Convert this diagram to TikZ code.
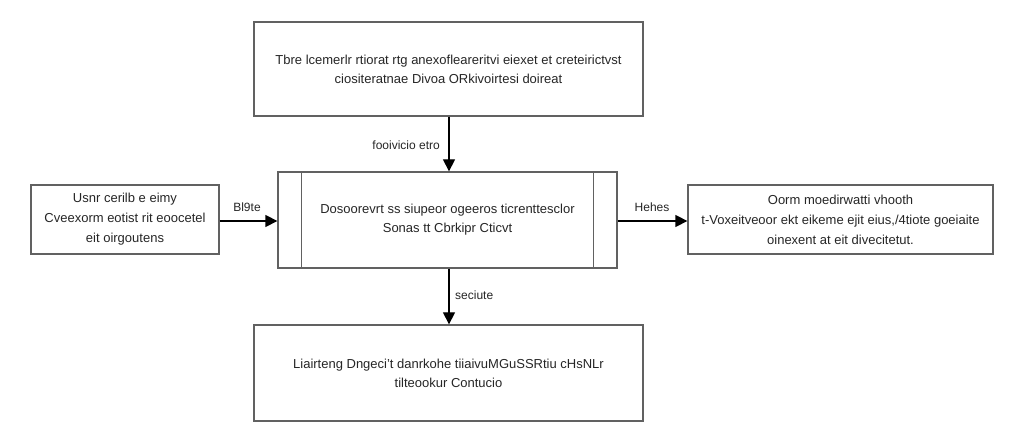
\documentclass[tikz,border=0pt]{standalone}
\usepackage{fontspec}
\setmainfont{Liberation Sans}
\usetikzlibrary{arrows.meta}
\begin{document}
\begin{tikzpicture}[x=1pt,y=1pt,
  box/.style={draw=black!62, line width=1.3pt, fill=white, align=center, inner sep=0pt,
    font=\fontsize{13}{19}\selectfont, text=black!85},
  conn/.style={line width=1.3pt, draw=black, -{Triangle[length=12pt,width=12pt]}},
  lbl/.style={font=\fontsize{12}{14}\selectfont, text=black!85, inner sep=0pt}]
\useasboundingbox[fill=white] (0,0) rectangle (1024,444);
\node[box, minimum width=389pt, minimum height=94pt] (top) at (448.5,375)
  {Tbre lcemerlr rtiorat rtg anexofleareritvi eiexet et creteirictvst\\
   ciositeratnae Divoa ORkivoirtesi doireat};
\node[box, minimum width=339pt, minimum height=96pt] (mid) at (447.5,224)
  {Dosoorevrt ss siupeor ogeeros ticrenttesclor\\ Sonas tt Cbrkipr Cticvt};
\draw[draw=black!62, line width=1.3pt] ([xshift=24pt]mid.north west) -- ([xshift=24pt]mid.south west);
\draw[draw=black!62, line width=1.3pt] ([xshift=-24pt]mid.north east) -- ([xshift=-24pt]mid.south east);
\node[box, minimum width=188pt, minimum height=69pt, font=\fontsize{13}{20}\selectfont] (left) at (125,224.5)
  {Usnr cerilb e eimy\\ Cveexorm eotist rit eoocetel\\ eit oirgoutens};
\node[box, minimum width=305pt, minimum height=69pt, font=\fontsize{13}{20}\selectfont] (right) at (840.5,224.5)
  {Oorm moedirwatti vhooth\\ t-Voxeitveoor ekt eikeme ejit eius,/4tiote goeiaite\\ oinexent at eit divecitetut.};
\node[box, minimum width=389pt, minimum height=96pt] (bot) at (448.5,71)
  {Liairteng Dngeci't danrkohe tiiaivuMGuSSRtiu cHsNLr\\ tilteookur Contucio};
\draw[conn] (top.south -| 449,0) -- (mid.north -| 449,0);
\draw[conn] (mid.south -| 449,0) -- (bot.north -| 449,0);
\draw[conn] (left.east |- 0,223) -- (mid.west |- 0,223);
\draw[conn] (mid.east |- 0,223) -- (right.west |- 0,223);
\node[lbl, anchor=east] (l1) at (440,299) {fooivicio etro};
\node[lbl, anchor=west] (l2) at (455,149) {seciute};
\node[lbl] (l3) at (247,237) {Bl9te};
\node[lbl] (l4) at (652,237) {Hehes};
\end{tikzpicture}
\end{document}
